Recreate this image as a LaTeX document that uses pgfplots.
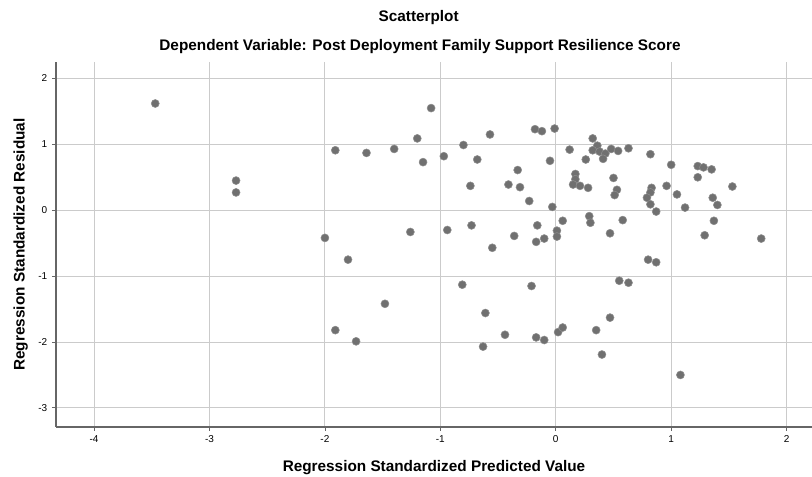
\documentclass[border=0pt]{standalone}
\usepackage{pgfplots}
\pgfplotsset{compat=1.18}
\usepackage{fontspec}
\setmainfont{Liberation Sans}
\definecolor{dotgray}{HTML}{707070}
\definecolor{gridgray}{HTML}{CBCBCB}
\begin{document}
\begin{tikzpicture}[x=1pt,y=1pt]
% 1 px of the reference = 0.75pt
\path[use as bounding box] (-42,-37.5) rectangle (567,320.25);
\begin{axis}[
    scale only axis,
    width=567pt,
    height=273.75pt,
    xmin=-4.33, xmax=2.22,
    ymin=-3.29, ymax=2.25,
    xtick={-4,-3,...,2},
    ytick={-3,-2,...,2},
    grid=major,
    major grid style={gridgray, line width=0.75pt},
    axis x line*=bottom,
    axis y line*=left,
    axis line style={black!60, line width=0.8pt},
    tick style={black!60, line width=0.6pt},
    tick align=outside,
    major tick length=3pt,
    ticklabel style={font=\fontsize{7.5}{9}\selectfont},
    /pgf/number format/assume math mode=true,
    xlabel={\bfseries Regression Standardized Predicted Value},
    ylabel={\bfseries Regression Standardized Residual},
    label style={font=\fontsize{11.5}{13}\selectfont},
    xlabel style={yshift=-6pt},
    ylabel style={yshift=1pt},
    clip=false,
]
\addplot[only marks, mark=*, mark size=3pt, mark options={fill=dotgray, draw=dotgray!80}] coordinates {
(-3.47,1.62) (-2.77,0.45) (-2.77,0.27) (-2.00,-0.42)
(-1.08,1.55) (-1.91,0.91) (-1.64,0.87) (-1.40,0.93) (-1.20,1.09)
(-1.15,0.73) (-0.97,0.82) (-0.80,0.99) (-0.68,0.77) (-0.57,1.15)
(-0.74,0.37) (-0.41,0.39) (-0.33,0.61) (-0.31,0.35) (-0.23,0.14)
(-0.18,1.23) (-0.12,1.20) (-0.01,1.24) (-0.05,0.75) (-0.03,0.05)
(0.12,0.92) (-1.26,-0.33) (-0.94,-0.30) (-0.73,-0.23) (-0.55,-0.57)
(-0.36,-0.39) (-0.16,-0.23) (-0.17,-0.48) (-0.10,-0.43) (0.06,-0.16)
(0.01,-0.31) (0.01,-0.40) (-1.80,-0.75)
(-0.81,-1.13) (-0.21,-1.15) (-1.48,-1.42) (-0.61,-1.56) (-1.91,-1.82)
(-1.73,-1.99) (-0.44,-1.89) (-0.63,-2.07) (-0.17,-1.93) (-0.10,-1.97)
(0.02,-1.85) (0.06,-1.78)
(0.32,1.09) (0.36,0.98) (0.32,0.91) (0.38,0.89) (0.43,0.86)
(0.41,0.78) (0.48,0.93) (0.54,0.90) (0.63,0.94) (0.26,0.77)
(0.82,0.85) (1.00,0.69) (1.23,0.67) (1.28,0.65) (1.35,0.62)
(1.23,0.50) (1.53,0.36) (0.17,0.55) (0.17,0.47) (0.15,0.39)
(0.21,0.37) (0.28,0.34) (0.50,0.49) (0.53,0.31) (0.51,0.23)
(0.83,0.34) (0.82,0.27) (0.79,0.19) (0.82,0.09) (0.87,-0.02)
(0.96,0.37) (1.05,0.24) (1.12,0.04) (1.36,0.19) (1.40,0.08)
(0.29,-0.09) (0.30,-0.19) (0.58,-0.15) (0.47,-0.35) (1.37,-0.16)
(1.29,-0.38) (1.78,-0.43)
(0.80,-0.75) (0.87,-0.79) (0.55,-1.07) (0.63,-1.10) (0.47,-1.63)
(0.35,-1.82) (0.40,-2.19) (1.08,-2.50)
};
\end{axis}
\node[font=\bfseries\fontsize{11.5}{13}\selectfont] at (272,306.75) {Scatterplot};
\node[font=\bfseries\fontsize{11.5}{13}\selectfont] at (273,285) {Dependent Variable: Post Deployment Family Support Resilience Score};
\end{tikzpicture}
\end{document}
